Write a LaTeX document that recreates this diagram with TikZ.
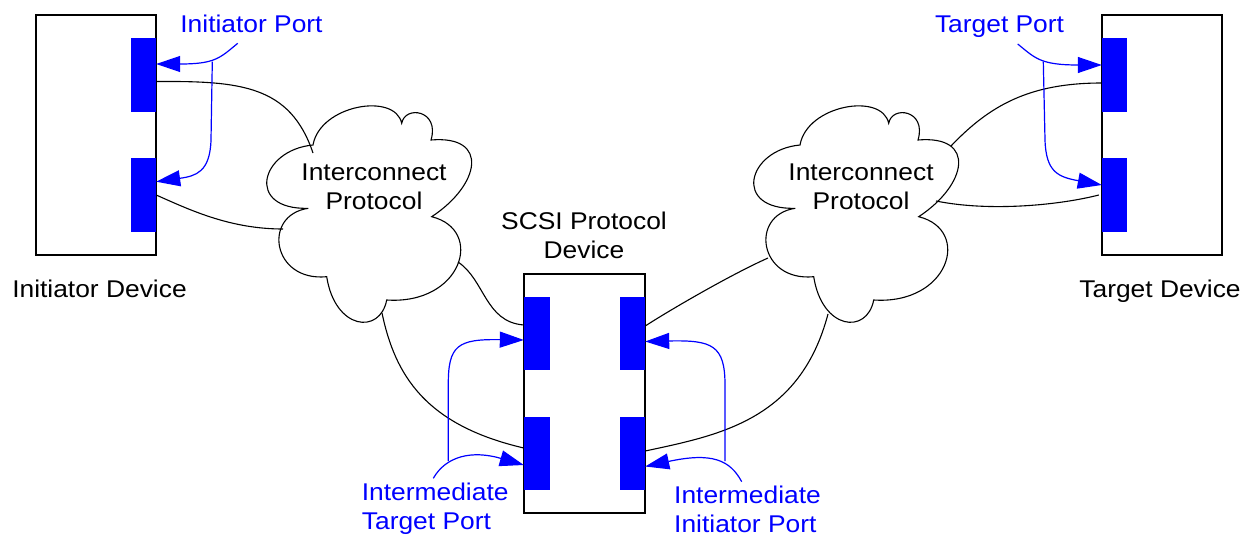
\documentclass[tikz,border=0pt]{standalone}
\usepackage{fontspec}
\setmainfont{Liberation Sans}[FakeStretch=1.09]
\usetikzlibrary{arrows.meta}
\definecolor{pblue}{RGB}{0,0,255}
\newcommand\labfont{\fontsize{24.2}{29.3}\selectfont}
\begin{document}
\begin{tikzpicture}[x=1pt,y=-1pt,
  device/.style={draw=black,line width=2.3pt,inner sep=0pt,minimum width=120pt,minimum height=240pt},
  port/.style={fill=pblue,draw=none,inner sep=0pt,minimum width=25pt,minimum height=74pt},
  wire/.style={draw=black,line width=1.1pt},
  note/.style={draw=pblue,line width=1.2pt},
  notearrow/.style={note,-{Triangle[length=24pt,width=16pt]}},
  lab/.style={font=\labfont,inner sep=0pt},
  bluelab/.style={lab,text=pblue},
  netcloud/.pic={
    \draw[line width=1.1pt] (313,145) .. controls (320,105) and (395,92) .. (401.7,123.3)
      .. controls (405,105) and (440,110) .. (431,140)
      .. controls (490,135) and (480,185) .. (431.7,216.7)
      .. controls (485,230) and (462,305) .. (386.7,300)
      .. controls (380,335) and (335,330) .. (326.7,276.7)
      .. controls (272,282) and (262,215) .. (308.3,208.3)
      .. controls (245,210) and (260,150) .. cycle;
  }
]
\useasboundingbox (0,0) rectangle (1244,535);

% clouds
\pic at (0,0) {netcloud};
\pic at (487,0) {netcloud};
\node[lab,align=center] (lclab) at (374,186.7) {Interconnect\\Protocol};
\node[lab,align=center] (rclab) at (861,186.7) {Interconnect\\Protocol};

% devices
\node[device] (idev) at (96,135) {};
\node[device] (tdev) at (1162,135) {};
\node[device,minimum width=121pt,minimum height=239pt] (sdev) at (584.5,393.5) {};

% ports
\node[port] (ip1) at (143.5,75) {};
\node[port] (ip2) at (143.5,195) {};
\node[port] (tp1) at (1114.5,75) {};
\node[port] (tp2) at (1114.5,195) {};
\node[port,minimum width=26pt,minimum height=73pt] (sp1) at (537,333.5) {};
\node[port,minimum width=26pt,minimum height=73pt] (sp2) at (537,453.5) {};
\node[port,minimum width=25pt,minimum height=73pt] (sp3) at (632.5,333.5) {};
\node[port,minimum width=25pt,minimum height=73pt] (sp4) at (632.5,453.5) {};

% cloud attachment points
\coordinate (lc1) at (313,153);
\coordinate (lc2) at (283,229);
\coordinate (lc3) at (458,262);
\coordinate (lc4) at (382,313);
\coordinate (rc1) at (768,258);
\coordinate (rc2) at (828,314);
\coordinate (rc3) at (951,146);
\coordinate (rc4) at (936,201);

% wires
\draw[wire] ([shift={(0,6.5)}]ip1.east) .. controls (240,81) and (290,85) .. (lc1);
\draw[wire] (ip2.east) .. controls (190,210) and (230,229) .. (lc2);
\draw[wire] (lc3) .. controls (485,280) and (485,322) .. ([shift={(0,-8.5)}]sp1.west);
\draw[wire] (lc4) .. controls (395,375) and (425,425) .. ([shift={(0,-5.5)}]sp2.west);
\draw[wire] (rc1) .. controls (730,275) and (670,310) .. ([shift={(0,-7.5)}]sp3.east);
\draw[wire] (rc2) .. controls (800,420) and (720,435) .. ([shift={(0,-2.5)}]sp4.east);
\draw[wire] (rc3) .. controls (990,105) and (1030,83) .. ([shift={(0,8)}]tp1.west);
\draw[wire] (rc4) .. controls (990,212) and (1060,205) .. ([shift={(-3,0)}]tp2.west);

% blue annotation arrows
\coordinate (ipstart) at (237.7,43.3);
\coordinate (ipfork) at (212.3,61.7);
\draw[notearrow] (ipstart) .. controls (220,58) and (215,64) .. ([shift={(0,-11)}]ip1.east);
\draw[notearrow] (ipfork) -- (211,140) .. controls (210,172) and (196,176) .. ([shift={(0,-13.3)}]ip2.east);

\coordinate (tpstart) at (1017.7,44);
\coordinate (tpfork) at (1043.3,61.7);
\draw[notearrow] (tpstart) .. controls (1035,58) and (1040,65) .. ([shift={(0,-10)}]tp1.west);
\draw[notearrow] (tpfork) -- (1045,140) .. controls (1046,172) and (1058,177) .. ([shift={(0,-10)}]tp2.west);

\coordinate (itstart) at (433.3,478.3);
\coordinate (itfork) at (448.3,461);
\draw[notearrow] (itstart) .. controls (446,456) and (472,450) .. ([shift={(0,11.5)}]sp2.west);
\draw[notearrow] (itfork) -- (448.3,385) .. controls (448,345) and (458,339) .. ([shift={(0,6.5)}]sp1.west);

\coordinate (iistart) at (741.7,481.7);
\coordinate (iifork) at (725,461);
\draw[notearrow] (iistart) .. controls (730,460) and (712,452) .. ([shift={(0,13)}]sp4.east);
\draw[notearrow] (iifork) -- (725,385) .. controls (725,345) and (712,340) .. ([shift={(0,8)}]sp3.east);

% labels
\node[lab,anchor=base] (idevlab) at (99.5,297) {Initiator Device};
\node[lab,anchor=base] (tdevlab) at (1160,297) {Target Device};
\node[lab,align=center] (sdevlab) at (584,235.4) {SCSI Protocol\\Device};
\node[bluelab,anchor=base] (iplab) at (251.5,33) {Initiator Port};
\node[bluelab,anchor=base] (tplab) at (999.5,33) {Target Port};
\node[bluelab,anchor=west,align=left] (itlab) at (361.7,509) {Intermediate\\Target Port};
\node[bluelab,anchor=west,align=left] (iilab) at (674,509) {Intermediate\\Initiator Port};
\end{tikzpicture}
\end{document}
